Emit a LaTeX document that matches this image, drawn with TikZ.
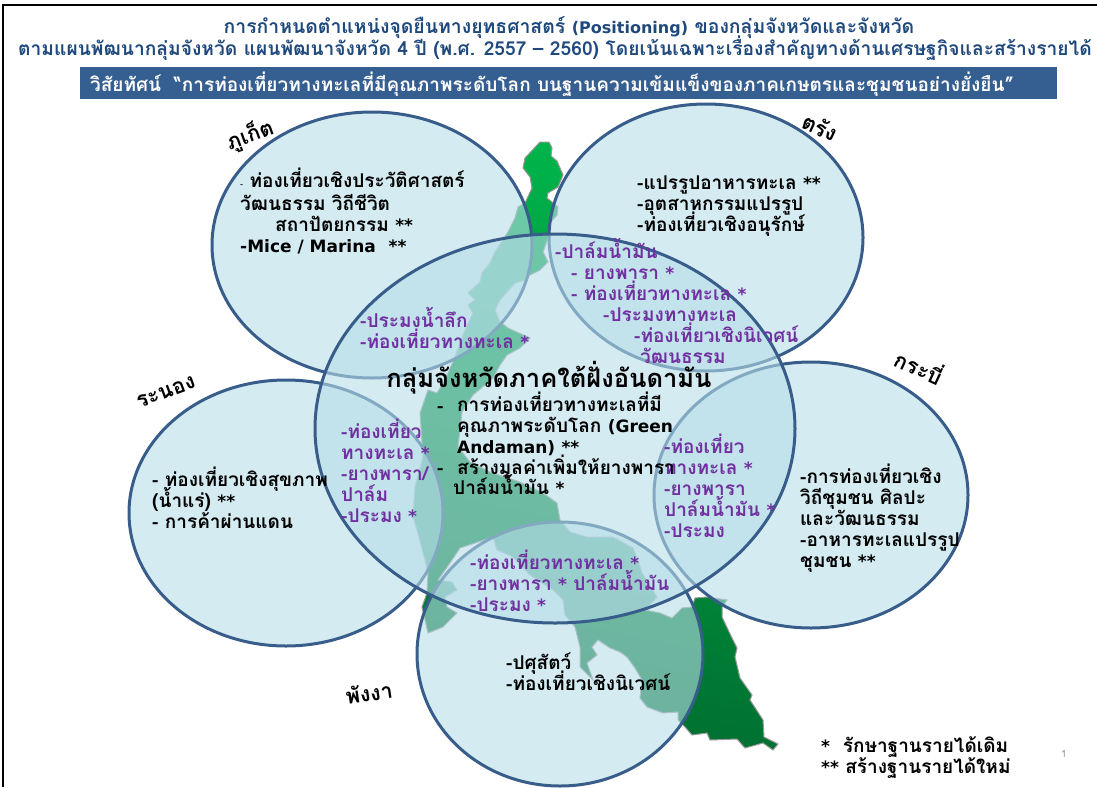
\documentclass[tikz,border=0pt]{standalone}
\usepackage{fontspec}
\setmainfont[Script=Thai]{Loma}
\newfontfamily\latinfont{DejaVu Sans}
\newcommand\latfont{\latinfont\fontsize{17}{21}\bfseries\selectfont}
\newcommand\starmark[1]{{\latfont #1}}
\usetikzlibrary{positioning}
\definecolor{ringblue}{HTML}{385D8A}
\definecolor{ringfill}{HTML}{B6DDE8}
\definecolor{bannerblue}{HTML}{365F91}
\definecolor{titleblue}{HTML}{1F497D}
\definecolor{cropviolet}{HTML}{7030A0}
\definecolor{landtop}{HTML}{00B34A}
\definecolor{landmid}{HTML}{00A046}
\definecolor{landlow}{HTML}{006F30}
\tikzset{
  ring/.style={draw=ringblue, line width=3pt, fill=ringfill, fill opacity=0.6},
  land/.style={draw=black!40, line width=1pt, top color=landtop, middle color=landmid, bottom color=landlow, shading angle=-12},
  txt/.style={anchor=base west, inner sep=0pt, align=left,
    font=\fontsize{19}{21}\bfseries\selectfont},
  blacktxt/.style={txt, text=black},
  violettxt/.style={txt, text=cropviolet},
  province/.style={inner sep=0pt, text=black, font=\fontsize{21.5}{24}\bfseries\selectfont},
  titletxt/.style={anchor=base, inner sep=0pt, text=titleblue, font=\fontsize{19.2}{22}\bfseries\selectfont},
}
\begin{document}
\lineskiplimit=-50pt
\begin{tikzpicture}[x=1pt,y=-1pt]
\useasboundingbox (0,0) rectangle (1097,787);
% slide frame, top and left only
\draw[line width=2.5pt] (3,787) -- (3,5) -- (1097,5);
% the land
\path[land] (540,142) -- (549,142) -- (552,148) -- (551,156) -- (557,161) -- (563,175) -- (558,187)
  -- (548,193) -- (547,198) -- (558,207) -- (557,215) -- (550,223) -- (549,235) -- (543,252)
  -- (548,262) -- (540,270) -- (530,275) -- (525,280) -- (515,283) -- (500,300) -- (495,310)
  -- (500,322) -- (508,328) -- (530,338) -- (520,348) -- (507,355) -- (500,365) -- (493,378)
  -- (473,395) -- (462,412) -- (458,447) -- (470,462) -- (490,472) -- (520,482) -- (543,493)
  -- (557,503) -- (560,520) -- (570,532) -- (587,537)
  -- (613,537) -- (633,548) -- (637,558) -- (642,573) -- (657,597) -- (645,610) -- (660,613)
  -- (672,618) -- (682,608) -- (692,607) -- (695,598) -- (707,597) -- (727,600) -- (722,607)
  -- (722,617) -- (732,638) -- (737,648) -- (735,657) -- (740,678) -- (752,695) -- (750,700)
  -- (763,720) -- (764,737) -- (778,744) -- (773,750) -- (763,743) -- (745,748) -- (737,739)
  -- (710,740) -- (707,733) -- (692,735) -- (685,727) -- (678,720) -- (678,712) -- (663,713)
  -- (647,707) -- (640,698) -- (642,680) -- (635,668) -- (627,657) -- (620,652) -- (610,648)
  -- (598,640) -- (592,647) -- (597,655) -- (587,663) -- (593,680) -- (580,667) -- (580,647)
  -- (575,627) -- (565,615) -- (563,600) -- (553,590) -- (530,575) -- (513,557) -- (497,550)
  -- (493,537) -- (460,548) -- (450,563) -- (438,580) -- (452,582) -- (457,590) -- (445,597)
  -- (447,607) -- (457,613) -- (443,627) -- (428,633) -- (425,620) -- (422,607) -- (427,593)
  -- (428,573) -- (425,560) -- (417,530) -- (413,517) -- (415,487) -- (423,457) -- (420,413)
  -- (428,390) -- (437,393) -- (445,380) -- (455,357) -- (465,330) -- (473,313) -- (468,305)
  -- (475,300) -- (468,293) -- (480,282) -- (482,273) -- (490,263) -- (495,252) -- (508,232)
  -- (515,218) -- (518,207) -- (525,203) -- (532,188) -- (530,177) -- (523,168) -- (525,158) -- cycle;
% province rings, then the group ring on top
\foreach \cx/\cy/\rx/\ry in {372/245/160/133, 706/237.5/157/133.5, 286/513/157/133, 811/495/157/133, 560/654/143/132}
    \draw[ring] (\cx,\cy) ellipse (\rx pt and \ry pt);
\draw[ring] (555,428.5) ellipse (240pt and 194.5pt);
% heading
\node[titletxt] (titlea) at (569,33) {\fontsize{19.4}{22}\selectfont การกำหนดตำแหน่งจุดยืนทางยุทธศาสตร์ {\latinfont\fontsize{16}{22}\selectfont (Positioning)} ของกลุ่มจังหวัดและจังหวัด};
\node[titletxt] (titleb) at (555,55) {ตามแผนพัฒนากลุ่มจังหวัด แผนพัฒนาจังหวัด 4 ปี (พ.ศ. 2557 – 2560) โดยเน้นเฉพาะเรื่องสำคัญทางด้านเศรษฐกิจและสร้างรายได้};
\node[fill=bannerblue, minimum width=977pt, minimum height=32pt, inner sep=0pt] (banner) at (568.5,83) {};
\node[anchor=base, inner sep=0pt, text=white, font=\fontsize{19}{22}\bfseries\selectfont] (vision) at (552,91) {วิสัยทัศน์ ~“การท่องเที่ยวทางทะเลที่มีคุณภาพระดับโลก บนฐานความเข้มแข็งของภาคเกษตรและชุมชนอย่างยั่งยืน”};
% province names
\node[province, rotate=20] (phuket) at (250,135) {ภูเก็ต};
\node[province, rotate=-25] (trang) at (820,127) {ตรัง};
\node[province, rotate=20] (ranong) at (166,392) {ระนอง};
\node[province, rotate=-25] (krabi) at (920,366) {กระบี่};
\node[province, rotate=8] (phangnga) at (369,693) {พังงา};
% province texts
\node[blacktxt] (phuketa) at (240,187) {{\normalfont\fontsize{9}{9}\selectfont -} ท่องเที่ยวเชิงประวัติศาสตร์};
\node[blacktxt] (phuketb) at (240,252) {วัฒนธรรม วิถีชีวิต\\\hspace*{35pt}สถาปัตยกรรม \starmark{**}\\{\latfont -Mice / Marina} ~\starmark{**}};
\node[blacktxt] (tranga) at (637,231) {-แปรรูปอาหารทะเล \starmark{**}\\-อุตสาหกรรมแปรรูป\\-ท่องเที่ยวเชิงอนุรักษ์};
\node[blacktxt] (ranonga) at (152,528) {- ท่องเที่ยวเชิงสุขภาพ\\(น้ำแร่) \starmark{**}\\- การค้าผ่านแดน};
\node[blacktxt] (krabia) at (800,567) {-การท่องเที่ยวเชิง\\วิถีชุมชน ศิลปะ\\และวัฒนธรรม\\-อาหารทะเลแปรรูป\\ชุมชน \starmark{**}};
\node[blacktxt] (phangngaa) at (506,690) {-ปศุสัตว์\\-ท่องเที่ยวเชิงนิเวศน์};
% shared items in the overlaps
\node[violettxt] (ovphuket) at (360,348) {-ประมงน้ำลึก\\-ท่องเที่ยวทางทะเล \starmark{*}};
\node[violettxt] (ovtrang) at (555,363) {-ปาล์มน้ำมัน\\\hspace*{16pt}- ยางพารา \starmark{*}\\\hspace*{16pt}- ท่องเที่ยวทางทะเล \starmark{*}\\\hspace*{48pt}-ประมงทางทะเล\\\hspace*{79pt}-ท่องเที่ยวเชิงนิเวศน์\\\hspace*{85pt}วัฒนธรรม};
\node[violettxt] (ovranong) at (341,522) {-ท่องเที่ยว\\ทางทะเล \starmark{*}\\-ยางพารา/\\ปาล์ม\\-ประมง \starmark{*}};
\node[violettxt] (ovkrabi) at (664,537) {-ท่องเที่ยว\\ทางทะเล \starmark{*}\\-ยางพารา\\ปาล์มน้ำมัน \starmark{*}\\-ประมง};
\node[violettxt] (ovphangnga) at (470,611) {-ท่องเที่ยวทางทะเล \starmark{*}\\-ยางพารา \starmark{*} ปาล์มน้ำมัน\\-ประมง \starmark{*}};
% group text
\node[anchor=base, inner sep=0pt, text=black, font=\fontsize{25.5}{28}\bfseries\selectfont] (group) at (549,387) {กลุ่มจังหวัดภาคใต้ฝั่งอันดามัน};
\node[blacktxt] (groupa) at (437,412) {-};
\node[blacktxt] (groupb) at (457,453) {การท่องเที่ยวทางทะเลที่มี\\คุณภาพระดับโลก {\latfont (Green}\\{\latfont Andaman)} \starmark{**}};
\node[blacktxt] (groupc) at (437,474) {-};
\node[blacktxt] (groupd) at (457,474) {สร้างมูลค่าเพิ่มให้ยางพารา};
\node[blacktxt] (groupe) at (453,494) {ปาล์มน้ำมัน \starmark{*}};
% legend and page number
\node[blacktxt] (legend) at (821,773) {\starmark{*}~ รักษาฐานรายได้เดิม\\\starmark{**} สร้างฐานรายได้ใหม่};
\node[inner sep=0pt, text=black!40, font=\fontsize{10}{12}\selectfont] (pageno) at (1064,754) {1};
\end{tikzpicture}
\end{document}
